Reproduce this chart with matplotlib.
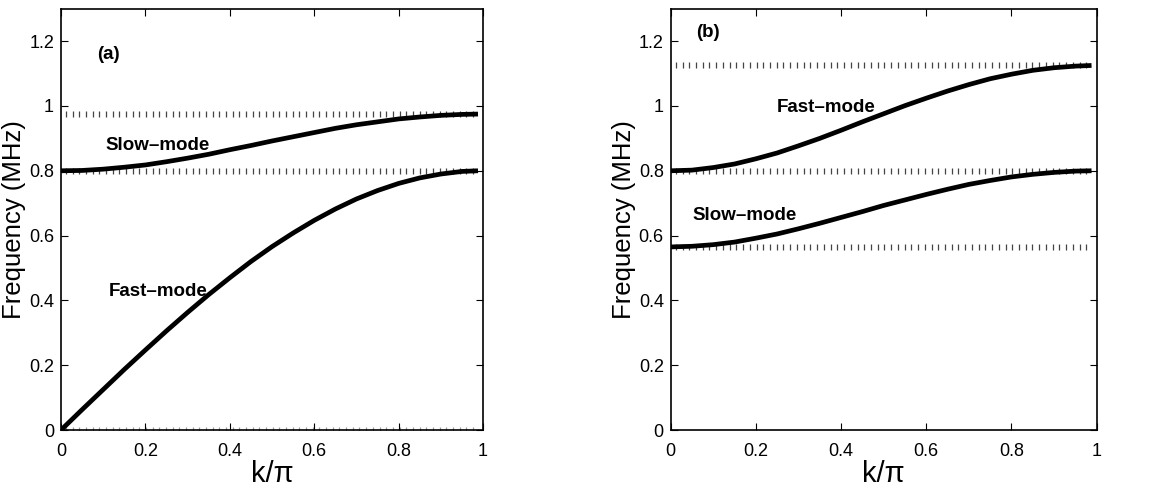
import numpy as np
import matplotlib.pyplot as plt

plt.rcParams['font.family'] = ['Liberation Sans', 'DejaVu Sans']

# wavenumber samples (k/pi)
k = [0.0, 0.05, 0.10, 0.15, 0.20, 0.25, 0.30, 0.35, 0.40, 0.45, 0.50,
     0.55, 0.60, 0.65, 0.70, 0.75, 0.80, 0.85, 0.90, 0.95, 0.988]

# panel (a) branches, MHz
fast_a = [0.000, 0.063, 0.125, 0.187, 0.247, 0.306, 0.363, 0.418, 0.470, 0.520, 0.566,
          0.608, 0.647, 0.682, 0.713, 0.739, 0.761, 0.778, 0.790, 0.798, 0.800]
slow_a = [0.800, 0.801, 0.805, 0.811, 0.818, 0.828, 0.839, 0.851, 0.865, 0.878, 0.892,
          0.905, 0.918, 0.931, 0.942, 0.951, 0.960, 0.966, 0.971, 0.974, 0.975]

# panel (b) branches, MHz
fast_b = [0.800, 0.802, 0.810, 0.821, 0.837, 0.855, 0.877, 0.900, 0.925, 0.951, 0.976,
          1.001, 1.024, 1.046, 1.066, 1.084, 1.098, 1.110, 1.118, 1.123, 1.125]
slow_b = [0.565, 0.567, 0.572, 0.580, 0.592, 0.605, 0.621, 0.638, 0.656, 0.674, 0.693,
          0.710, 0.727, 0.743, 0.758, 0.770, 0.781, 0.789, 0.795, 0.799, 0.800]

# band edges (dotted guides)
edges_a = [0.0, 0.800, 0.975]
edges_b = [0.565, 0.800, 1.125]

yticks = [0, 0.2, 0.4, 0.6, 0.8, 1.0, 1.2]
xticks = [0, 0.2, 0.4, 0.6, 0.8, 1.0]


def setup(ax):
    ax.set_xlim(0, 1)
    ax.set_ylim(0, 1.3)
    ax.set_xticks(xticks)
    ax.set_yticks(yticks)
    ax.set_xticklabels(['%g' % v for v in xticks])
    ax.set_yticklabels(['%g' % v for v in yticks])
    ax.tick_params(direction='in', top=True, right=True, length=5, width=0.8,
                   labelsize=13)
    ax.tick_params(axis='x', pad=9)
    ax.tick_params(axis='y', pad=5)
    for sp in ax.spines.values():
        sp.set_linewidth(1.2)
    ax.set_xlabel('k/\u03c0', fontsize=21, labelpad=0)
    ax.set_ylabel('Frequency (MHz)', fontsize=18.5, labelpad=2)


def guides(ax, levels, color='#444444'):
    xs = np.arange(0.012, 0.985, 0.0158)
    for lv in levels:
        ax.plot(xs, [lv] * len(xs), ls='none', marker='|', ms=4.5, mew=0.9,
                color=color, zorder=1)


fig = plt.figure(figsize=(11.54, 4.95), dpi=100)
ax1 = fig.add_axes([0.0529, 0.1313, 0.3657, 0.851])
ax2 = fig.add_axes([0.5812, 0.1313, 0.3691, 0.851])

lab = dict(fontsize=13.5, fontweight='bold', va='center')

# (a)
setup(ax1)
guides(ax1, edges_a[1:])
guides(ax1, edges_a[:1], color='#999999')
ax1.plot(k, fast_a, color='black', lw=3.4, solid_capstyle='butt', zorder=3)
ax1.plot(k, slow_a, color='black', lw=3.4, solid_capstyle='butt', zorder=3)
ax1.text(0.085, 1.16, '(a)', **lab)
ax1.text(0.105, 0.878, 'Slow\u2013mode', **lab)
ax1.text(0.114, 0.426, 'Fast\u2013mode', **lab)

# (b)
setup(ax2)
guides(ax2, edges_b)
ax2.plot(k, fast_b, color='black', lw=3.4, solid_capstyle='butt', zorder=3)
ax2.plot(k, slow_b, color='black', lw=3.4, solid_capstyle='butt', zorder=3)
ax2.text(0.06, 1.226, '(b)', **lab)
ax2.text(0.250, 0.994, 'Fast\u2013mode', **lab)
ax2.text(0.052, 0.663, 'Slow\u2013mode', **lab)

fig.savefig('out.png', dpi=100)
